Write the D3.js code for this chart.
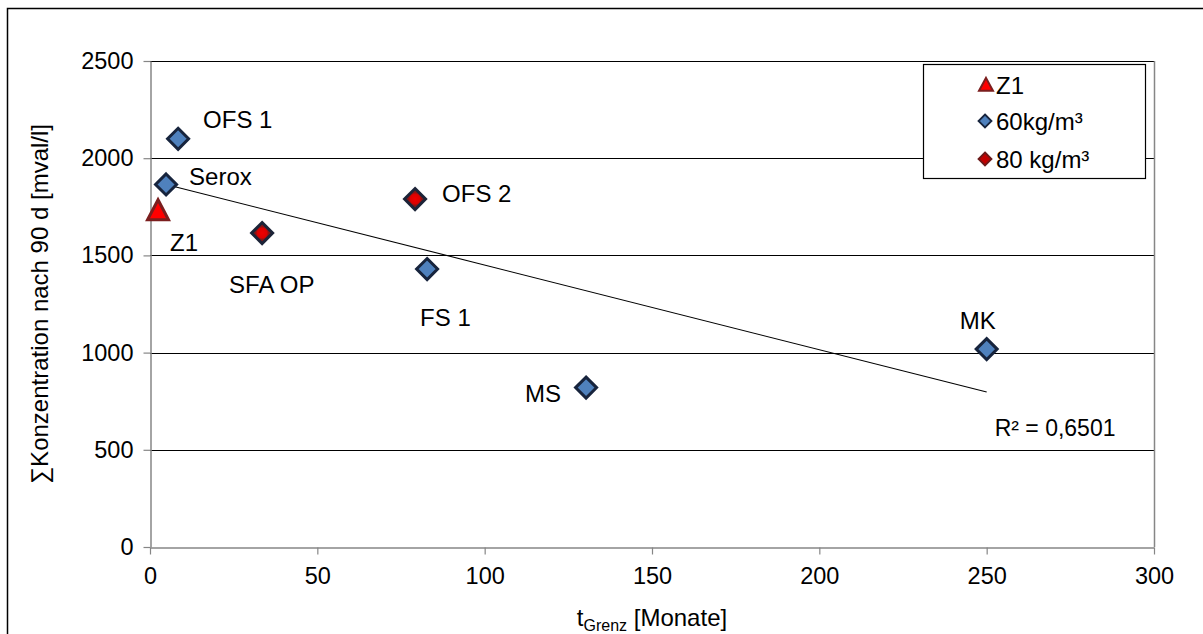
<!DOCTYPE html>
<html>
<head>
<meta charset="utf-8">
<script src="https://cdn.jsdelivr.net/npm/d3@7/dist/d3.min.js"></script>
<style>
  html, body { margin: 0; padding: 0; background: #fff; }
  svg { display: block; font-family: "Liberation Sans", Arial, sans-serif; }
</style>
</head>
<body>
<svg id="chart" width="1203" height="634"></svg>
<script>
// ---- data ----
const seriesNames = ["Z1", "60kg/m³", "80 kg/m³"];
const z1Labels = ["Z1"];
const z1X = [2.4];
const z1Y = [1730];
const s60Labels = ["OFS 1", "Serox", "FS 1", "MS", "MK"];
const s60X = [8.4, 4.8, 82.8, 130.3, 250];
const s60Y = [2100, 1865, 1430, 820, 1018];
const s80Labels = ["OFS 2", "SFA OP"];
const s80X = [79.2, 33.5];
const s80Y = [1790, 1615];
const trendX = [4.8, 250];
const trendY = [1865, 797];
const rSquaredText = "R² = 0,6501";
const xTicks = [0, 50, 100, 150, 200, 250, 300];
const yTicks = [0, 500, 1000, 1500, 2000, 2500];

// label offsets (layout, px relative to the point: left edge, vertical centre)
const labelOffsets = {
  "Z1": [12, 32], "OFS 1": [25, -19], "Serox": [23, -8], "FS 1": [-7, 48],
  "MS": [-61, 6], "MK": [-27, -29], "OFS 2": [27, -6], "SFA OP": [-33, 51]
};

const FONT = "'Liberation Sans', Arial, sans-serif";
const svg = d3.select("#chart");
const x = d3.scaleLinear().domain([0, 300]).range([150, 1154]);
const y = d3.scaleLinear().domain([0, 2500]).range([547, 61]);

// outer chart border
svg.append("rect").attr("x", 7.5).attr("y", 8.5).attr("width", 1210).attr("height", 700)
  .attr("fill", "#fff").attr("stroke", "#000").attr("stroke-width", 1.5);

// gridlines
svg.append("g").selectAll("line").data(yTicks.filter(d => d > 0)).join("line")
  .attr("x1", x(0)).attr("x2", x(300))
  .attr("y1", d => Math.round(y(d)) + 0.5).attr("y2", d => Math.round(y(d)) + 0.5)
  .attr("stroke", "#000").attr("stroke-width", 1.2);

// plot right border
svg.append("line").attr("x1", Math.round(x(300)) + 0.5).attr("x2", Math.round(x(300)) + 0.5)
  .attr("y1", y(2500)).attr("y2", y(0)).attr("stroke", "#868686").attr("stroke-width", 1.5);

// axes
const fmt = d3.format("d");
const xAxis = d3.axisBottom(x).tickValues(xTicks).tickFormat(fmt).tickSize(7).tickPadding(13).tickSizeOuter(0);
const yAxis = d3.axisLeft(y).tickValues(yTicks).tickFormat(fmt).tickSize(7).tickPadding(10).tickSizeOuter(0);
const gx = svg.append("g").attr("transform", `translate(0,${Math.round(y(0)) + 0.5})`).call(xAxis);
const gy = svg.append("g").attr("transform", `translate(${Math.round(x(0)) + 0.5},0)`).call(yAxis);
[gx, gy].forEach(g => {
  g.attr("font-size", null).attr("font-family", null);
  g.select(".domain").attr("stroke", "#868686").attr("stroke-width", 1.5);
  g.selectAll(".tick line").attr("stroke", "#868686").attr("stroke-width", 1.2);
  g.selectAll(".tick text").attr("fill", "#000").style("font-size", "23.5px")
    .style("font-family", FONT);
});

// axis titles
svg.append("text").attr("transform", `translate(48,304) rotate(-90)`)
  .attr("text-anchor", "middle").style("font-size", "24px").attr("fill", "#000")
  .text("∑Konzentration nach 90 d [mval/l]");
const xt = svg.append("text").attr("x", 652).attr("y", 626).attr("text-anchor", "middle")
  .style("font-size", "24px").attr("fill", "#000");
xt.append("tspan").text("t");
xt.append("tspan").attr("dy", 5).style("font-size", "16px").text("Grenz");
xt.append("tspan").attr("dy", -5).text(" [Monate]");

// gradient for 80 kg diamonds
const defs = svg.append("defs");
const rg = defs.append("radialGradient").attr("id", "red80");
rg.append("stop").attr("offset", "0%").attr("stop-color", "#ee0000");
rg.append("stop").attr("offset", "45%").attr("stop-color", "#dd0000");
rg.append("stop").attr("offset", "60%").attr("stop-color", "#8a1414");
rg.append("stop").attr("offset", "100%").attr("stop-color", "#7a1a1a");

// trendline
svg.append("line")
  .attr("x1", x(trendX[0])).attr("y1", y(trendY[0]))
  .attr("x2", x(trendX[1])).attr("y2", y(trendY[1]))
  .attr("stroke", "#000").attr("stroke-width", 1.1);

const diamond = r => `M0,${-r}L${r},0L0,${r}L${-r},0Z`;
const triangle = (w, h) => `M0,${-h * 0.55}L${w / 2},${h * 0.45}L${-w / 2},${h * 0.45}Z`;

// 60 kg series
const s60 = s60X.map((d, i) => ({ x: d, y: s60Y[i], label: s60Labels[i] }));
svg.append("g").selectAll("path").data(s60).join("path")
  .attr("transform", d => `translate(${x(d.x)},${y(d.y)})`)
  .attr("d", diamond(10.5)).attr("fill", "#4f81bd").attr("stroke", "#17243d").attr("stroke-width", 3);

// 80 kg series
const s80 = s80X.map((d, i) => ({ x: d, y: s80Y[i], label: s80Labels[i] }));
svg.append("g").selectAll("path").data(s80).join("path")
  .attr("transform", d => `translate(${x(d.x)},${y(d.y)})`)
  .attr("d", diamond(10.5)).attr("fill", "url(#red80)").attr("stroke", "#1c2438").attr("stroke-width", 3);

// Z1 series
const z1 = z1X.map((d, i) => ({ x: d, y: z1Y[i], label: z1Labels[i] }));
svg.append("g").selectAll("path").data(z1).join("path")
  .attr("transform", d => `translate(${x(d.x)},${y(d.y)})`)
  .attr("d", triangle(21, 20)).attr("fill", "#ff0000").attr("stroke", "#7b1e1e").attr("stroke-width", 3);

// point labels
const allPts = [...z1, ...s60, ...s80];
svg.append("g").selectAll("text").data(allPts).join("text")
  .attr("x", d => x(d.x) + labelOffsets[d.label][0])
  .attr("y", d => y(d.y) + labelOffsets[d.label][1])
  .attr("dy", "0.36em").style("font-size", "24px").attr("fill", "#000")
  .text(d => d.label);

// R² label
svg.append("text").attr("x", x(trendX[1]) + 8).attr("y", y(trendY[1]) + 36).attr("dy", "0.36em")
  .style("font-size", "23px").attr("fill", "#000").text(rSquaredText);

// legend
const lg = svg.append("g");
lg.append("rect").attr("x", 923.5).attr("y", 64.5).attr("width", 222).attr("height", 114)
  .attr("fill", "#fff").attr("stroke", "#000").attr("stroke-width", 1.2);
const legY = [85, 121, 159];
seriesNames.forEach((name, i) => {
  const ly = legY[i];
  if (i === 0) {
    lg.append("path").attr("transform", `translate(986,${ly})`).attr("d", triangle(14, 13))
      .attr("fill", "#ff0000").attr("stroke", "#7b1e1e").attr("stroke-width", 2);
  } else {
    lg.append("path").attr("transform", `translate(985,${ly})`).attr("d", diamond(6.5))
      .attr("fill", i === 1 ? "#4f81bd" : "#c00000")
      .attr("stroke", i === 1 ? "#17243d" : "#6b1a1a").attr("stroke-width", 1.8);
  }
  lg.append("text").attr("x", 996).attr("y", ly).attr("dy", "0.36em")
    .style("font-size", "24px").attr("fill", "#000").text(name);
});
</script>
</body>
</html>
